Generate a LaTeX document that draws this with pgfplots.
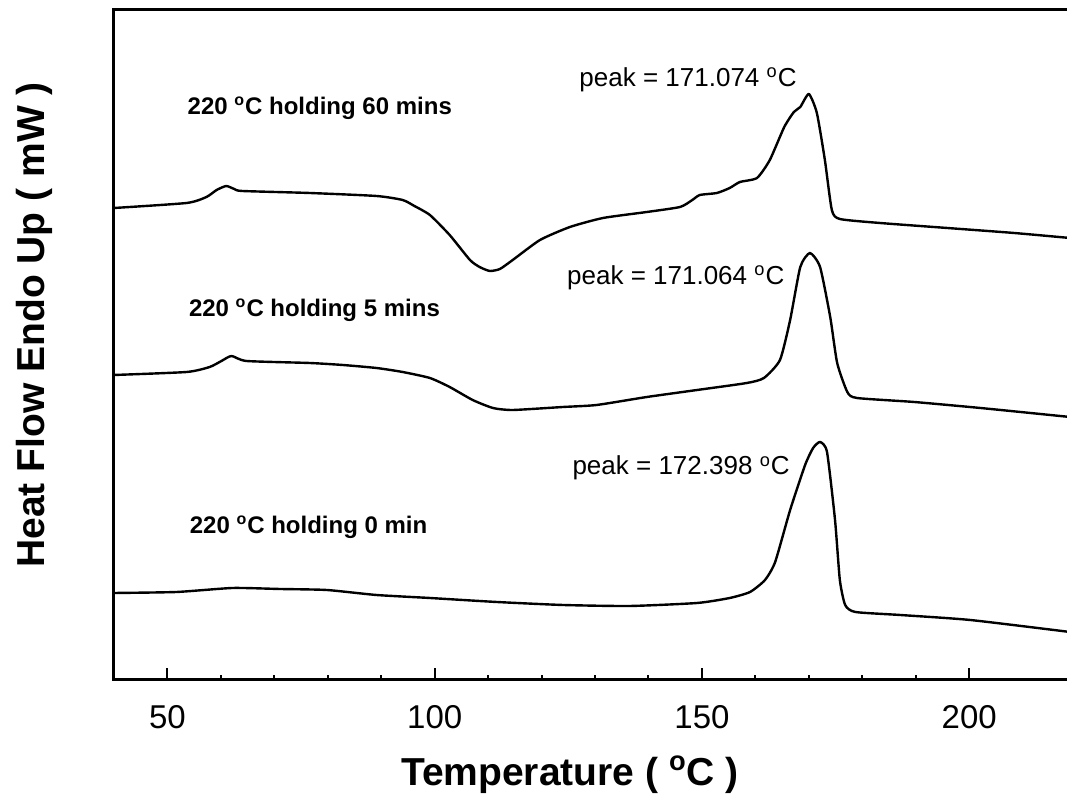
\documentclass[border=0pt]{standalone}
\usepackage{fontspec}
\setmainfont{Liberation Sans}
\usepackage{pgfplots}
\pgfplotsset{compat=1.18}
\pgfplotsset{dsc/.style={black, line width=1.2pt, mark=none, smooth, tension=0.35, line join=round}}
\begin{document}
\begin{tikzpicture}
\begin{axis}[
  at={(0,0)}, anchor=south west,
  scale only axis,
  width=478pt, height=335pt,
  xmin=40, xmax=218.86,
  ymin=-680, ymax=-10,
  axis line style={line width=1.5pt},
  xtick={50,100,150,200},
  xtick pos=left,
  minor x tick num=4,
  major tick length=6pt, minor tick length=2.5pt,
  every tick/.style={black, line width=1pt},
  ytick=\empty,
  tick label style={font=\fontsize{16.5}{16.5}\selectfont},
  xticklabel style={yshift=-9pt},
  /pgf/number format/assume math mode=true,
  xlabel={\textbf{Temperature ( \textsuperscript{o}C )}},
  ylabel={\textbf{Heat Flow Endo Up ( mW )}},
  label style={font=\fontsize{19.5}{19.5}\selectfont},
  xlabel style={at={(axis description cs:0.477,-0.142)}, anchor=center},
  ylabel style={at={(axis description cs:-0.083,0.53)}, anchor=center},
  clip=true,
]
% 60 mins
\addplot[dsc] coordinates {
(40,-208) (53.6,-203) (57.3,-197) (59.2,-190) (61.0,-186) (62.5,-189) (64.0,-191)
(76.6,-193) (89.1,-196) (94.0,-200) (96.2,-206) (99.1,-215) (102.8,-235) (106.6,-260)
(108.4,-267) (110.3,-271) (112.2,-269) (114.6,-260) (119.7,-240) (125.3,-227)
(131.5,-218) (139.7,-212) (145.9,-207) (148.2,-200) (149.6,-195) (152.8,-193)
(155.2,-188) (157.1,-182) (160.3,-178) (162.7,-160) (165.4,-127) (167.2,-112)
(168.4,-107) (170.0,-94) (171.5,-113) (173.0,-160) (174.3,-210) (175.8,-219)
(183.3,-223) (195.9,-228) (208.4,-233) (218.86,-238)
};
% 5 mins
\addplot[dsc] coordinates {
(40,-375) (53.6,-372) (57.9,-367) (60.1,-361) (62.0,-356) (64.8,-361) (76.6,-363)
(82.8,-365) (89.1,-368) (94.0,-372) (99.1,-378) (102.8,-387) (107.1,-400)
(110.9,-408) (114.6,-410) (124.0,-407) (130.3,-405) (139.7,-397) (149.1,-390)
(158.4,-383) (161.6,-378) (164.6,-360) (166.5,-320) (168.4,-267) (170.2,-253)
(172.1,-267) (174.0,-317) (175.3,-363) (177.2,-392) (179.0,-398) (189.7,-402)
(202.1,-408) (218.86,-417)
};
% 0 min
\addplot[dsc] coordinates {
(40,-593) (51.7,-592) (62.2,-588) (71.0,-589) (79.8,-590) (89.1,-595) (99.1,-598)
(111.6,-602) (124.0,-605) (136.5,-606) (149.1,-603) (155.2,-598) (159.0,-592)
(161.8,-580) (163.7,-562) (166.5,-510) (169.3,-465) (170.8,-448) (172.1,-442)
(173.4,-452) (174.9,-520) (175.8,-580) (176.8,-605) (178.7,-612) (187.1,-615)
(200.2,-620) (218.86,-632)
};
\node[font=\fontsize{12}{12}\selectfont\bfseries] at (axis cs:78.5,-108) {220 \textsuperscript{o}C holding 60 mins};
\node[font=\fontsize{12}{12}\selectfont\bfseries] at (axis cs:77.5,-310) {220 \textsuperscript{o}C holding 5 mins};
\node[font=\fontsize{12}{12}\selectfont\bfseries] at (axis cs:76.4,-527) {220 \textsuperscript{o}C holding 0 min};
\node[font=\fontsize{13}{13}\selectfont] at (axis cs:147.4,-80) {peak = 171.074 \textsuperscript{o}C};
\node[font=\fontsize{13}{13}\selectfont] at (axis cs:145.1,-278) {peak = 171.064 \textsuperscript{o}C};
\node[font=\fontsize{13}{13}\selectfont] at (axis cs:146.1,-468) {peak = 172.398 \textsuperscript{o}C};
\end{axis}
\pgfresetboundingbox
\path[use as bounding box] (-57pt,-57.5pt) rectangle (476.5pt,340pt);
\end{tikzpicture}
\end{document}
